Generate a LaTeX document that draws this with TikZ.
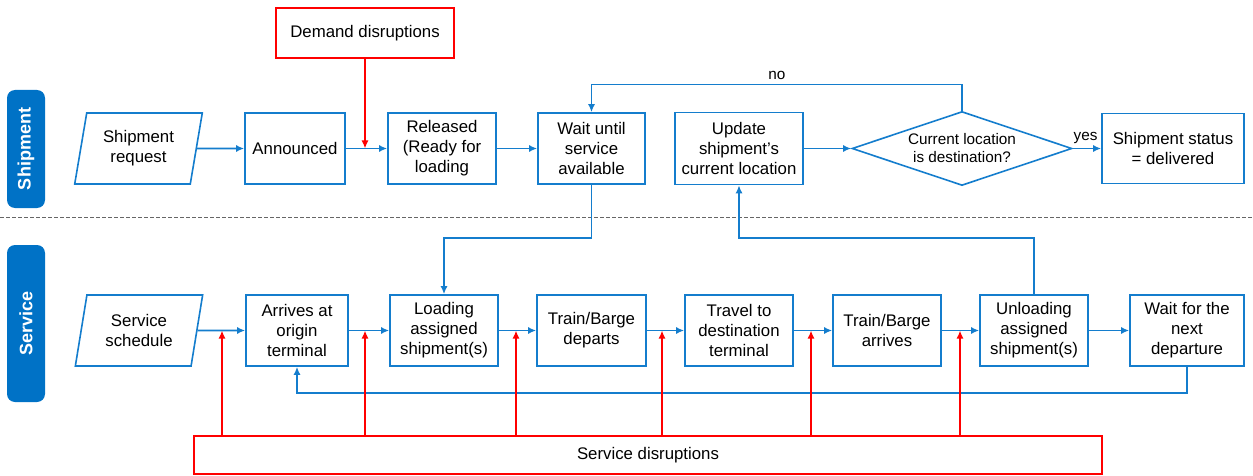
\documentclass[tikz,border=0pt]{standalone}
\usepackage{fontspec}
\setmainfont{Liberation Sans}
\usetikzlibrary{shapes.geometric,arrows.meta,calc}
\definecolor{lblue}{RGB}{0,114,198}
\definecolor{lnblue}{RGB}{20,125,205}
\definecolor{dred}{RGB}{255,0,0}
\begin{document}
\begin{tikzpicture}[x=1pt,y=-1pt,
  every node/.style={font=\fontsize{16.8}{20}\selectfont, text=black},
  box/.style={draw=lnblue, line width=1.6pt, inner sep=0pt, align=center, minimum height=71},
  para/.style={draw=lnblue, line width=1.6pt, inner sep=0pt, align=center, trapezium, trapezium left angle=77, trapezium right angle=103, trapezium stretches=true, minimum width=128, minimum height=71},
  redbox/.style={draw=dred, line width=1.6pt, inner sep=0pt, align=center},
  lanebox/.style={fill=lblue, rounded corners=8pt, inner sep=0pt, minimum width=38},
  lanetext/.style={text=white, font=\fontsize{18}{20}\selectfont\bfseries, rotate=90},
  flow/.style={draw=lnblue, line width=1.6pt, -{Latex[length=8pt,width=7pt]}},
  rflow/.style={draw=dred, line width=1.6pt, -{Latex[length=8pt,width=7pt]}},
  small/.style={font=\fontsize{15.3}{18}\selectfont}
]
\useasboundingbox (0,0) rectangle (1253,476);

% lanes
\node[lanebox, minimum height=118] (lship) at (26,149) {};
\node[lanetext] (lshipt) at (26,149) {Shipment};
\node[lanebox, minimum height=157] (lserv) at (26,323.5) {};
\node[lanetext] (lservt) at (26,323.5) {Service};
\draw[gray!80!black, line width=1pt, dash pattern=on 4pt off 2pt] (0,217) -- (1253,217);

% top row
\node[para] (sr) at (138.5,148.5) {Shipment\\request};
\node[box, minimum width=100] (ann) at (295,148.5) {Announced};
\node[box, minimum width=108] (rel) at (442,148.5) {Released\\(Ready for\\loading};
\node[box, minimum width=107] (wait) at (591.5,148.5) {Wait until\\service\\available};
\node[box, minimum width=128, minimum height=72] (upd) at (739,148.5) {Update\\shipment’s\\current location};
\node[diamond, draw=lnblue, line width=1.6pt, inner sep=0pt, minimum width=220, minimum height=74, aspect=3, align=center, small] (dia) at (962,148.5) {Current location\\is destination?};
\node[box, minimum width=142, minimum height=70] (stat) at (1173,148.5) {Shipment status\\= delivered};
\node[redbox, minimum width=178, minimum height=50] (dd) at (365,33) {Demand disruptions};

% bottom row
\node[para] (ss) at (139,330.5) {Service\\schedule};
\node[box, minimum width=102] (arr) at (297,330.5) {Arrives at\\origin\\terminal};
\node[box, minimum width=108] (load) at (444,330.5) {Loading\\assigned\\shipment(s)};
\node[box, minimum width=109] (dep) at (591.5,330.5) {Train/Barge\\departs};
\node[box, minimum width=108] (trav) at (739,330.5) {Travel to\\destination\\terminal};
\node[box, minimum width=108] (arv) at (887,330.5) {Train/Barge\\arrives};
\node[box, minimum width=108] (unl) at (1034,330.5) {Unloading\\assigned\\shipment(s)};
\node[box, minimum width=114] (nxt) at (1187,330.5) {Wait for the\\next\\departure};
\node[redbox, minimum width=908, minimum height=38] (sd) at (648,455) {Service disruptions};

% top flows
\draw[flow] (sr.east) -- (ann.west);
\draw[flow] (ann.east) -- (rel.west);
\draw[flow] (rel.east) -- (wait.west);
\draw[flow] (upd.east) -- (dia.west);
\draw[flow] (dia.east) -- node[above, small, pos=0.45, yshift=1pt] (yes) {yes} (stat.west);
\draw[flow] (dia.north) -- ++(0,-26) -| node[pos=0.25, above, small, yshift=1pt] (no) {no} (wait.north);
\draw[rflow] (dd.south) -- (dd.south |- ann.east);

% bottom flows
\draw[flow] (ss.east) -- (arr.west);
\draw[flow] (arr.east) -- (load.west);
\draw[flow] (load.east) -- (dep.west);
\draw[flow] (dep.east) -- (trav.west);
\draw[flow] (trav.east) -- (arv.west);
\draw[flow] (arv.east) -- (unl.west);
\draw[flow] (unl.east) -- (nxt.west);
\draw[flow] (nxt.south) -- ++(0,26) -| (arr.south);
\draw[flow] (wait.south) -- ++(0,53) -| (load.north);
\draw[flow] (unl.north) -- ++(0,-56) -| (upd.south);

% service disruptions
\foreach \i/\x in {1/222,2/365,3/516,4/662,5/811,6/960}{
  \coordinate (r\i) at (\x,330.5);
  \draw[rflow] (sd.north -| r\i) -- (r\i);
}
\end{tikzpicture}
\end{document}
